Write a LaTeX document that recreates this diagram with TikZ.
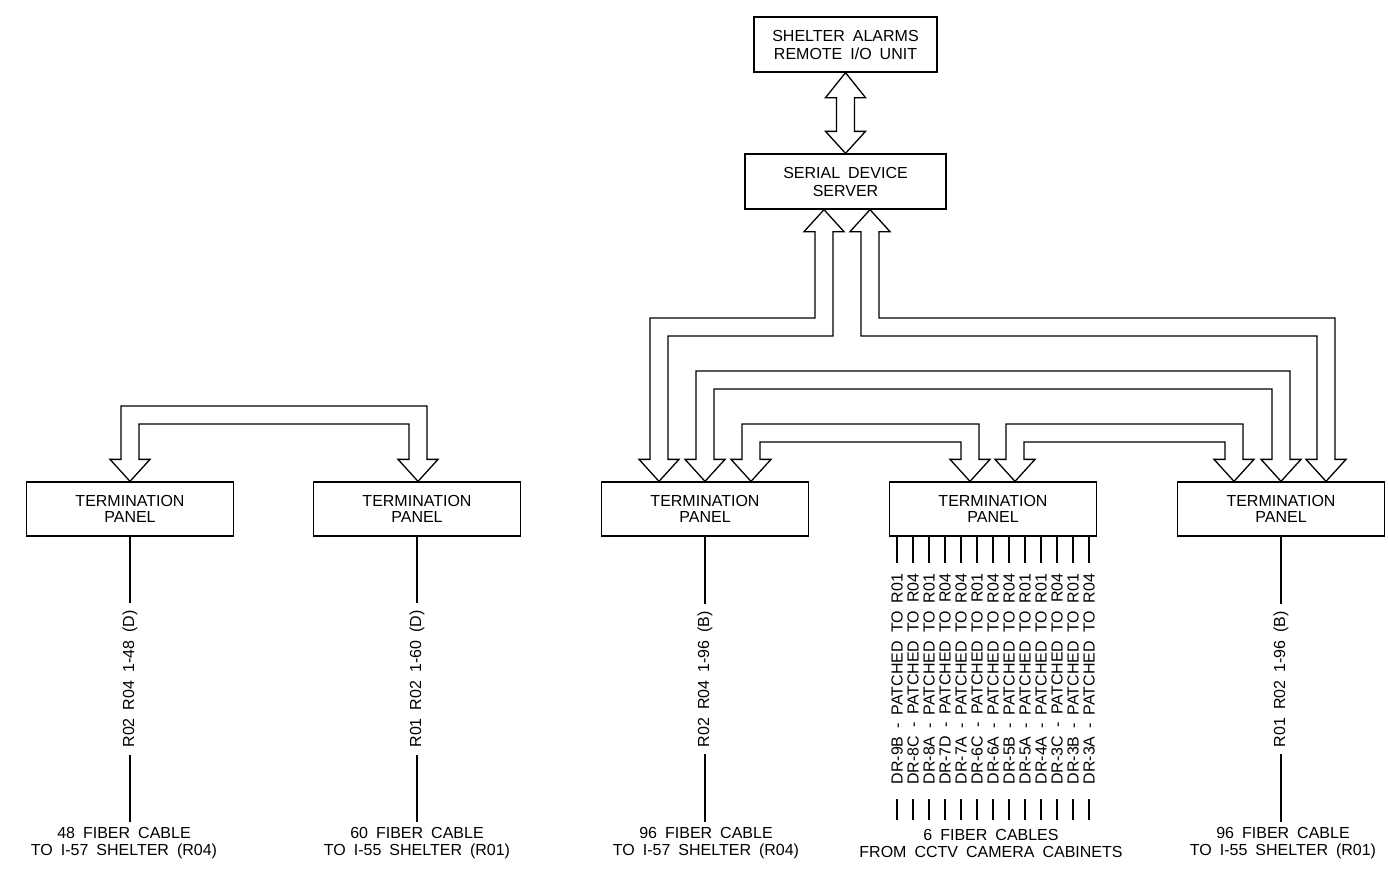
\documentclass[tikz,border=0pt]{standalone}
\usepackage{fontspec}
\setmainfont[WordSpace=1.8]{Liberation Sans}
\usetikzlibrary{calc}
% cap-shaped hollow arrow: left tip, right tip, outer top y
\newcommand{\caparrow}[3]{%
\draw[arr] let \p1=#1, \p2=#2, \p3=(0,#3) in
 (\x1,\y1) -- (\x1-20pt,\y1+22pt) -- (\x1-9pt,\y1+22pt) -- (\x1-9pt,\y3) --
 (\x2+9pt,\y3) -- (\x2+9pt,\y2+22pt) -- (\x2+20pt,\y2+22pt) -- (\x2,\y2) --
 (\x2-20pt,\y2+22pt) -- (\x2-9pt,\y2+22pt) -- (\x2-9pt,\y3-18pt) --
 (\x1+9pt,\y3-18pt) -- (\x1+9pt,\y1+22pt) -- (\x1+20pt,\y1+22pt) -- cycle;}
% L-shaped hollow arrow going down-left: up tip, down tip, outer y
\newcommand{\larrowleft}[3]{%
\draw[arr] let \p1=#1, \p2=#2, \p3=(0,#3) in
 (\x1,\y1) -- (\x1+20pt,\y1-22pt) -- (\x1+9pt,\y1-22pt) -- (\x1+9pt,\y3-18pt) --
 (\x2+9pt,\y3-18pt) -- (\x2+9pt,\y2+22pt) -- (\x2+20pt,\y2+22pt) -- (\x2,\y2) --
 (\x2-20pt,\y2+22pt) -- (\x2-9pt,\y2+22pt) -- (\x2-9pt,\y3) -- (\x1-9pt,\y3) --
 (\x1-9pt,\y1-22pt) -- (\x1-20pt,\y1-22pt) -- cycle;}
% L-shaped hollow arrow going down-right
\newcommand{\larrowright}[3]{%
\draw[arr] let \p1=#1, \p2=#2, \p3=(0,#3) in
 (\x1,\y1) -- (\x1+20pt,\y1-22pt) -- (\x1+9pt,\y1-22pt) -- (\x1+9pt,\y3) --
 (\x2+9pt,\y3) -- (\x2+9pt,\y2+22pt) -- (\x2+20pt,\y2+22pt) -- (\x2,\y2) --
 (\x2-20pt,\y2+22pt) -- (\x2-9pt,\y2+22pt) -- (\x2-9pt,\y3-18pt) --
 (\x1-9pt,\y3-18pt) -- (\x1-9pt,\y1-22pt) -- (\x1-20pt,\y1-22pt) -- cycle;}
\begin{document}
\begin{tikzpicture}[x=1pt,y=-1pt,
  box/.style={draw,line width=1.3pt,rectangle,minimum height=55pt,inner sep=0pt,
    align=center,font=\fontsize{16}{18}\selectfont},
  tpbox/.style={box,minimum width=207pt,minimum height=54pt,font=\fontsize{16}{16}\selectfont},
  arr/.style={draw,line width=1.3pt,line join=miter,fill=white},
  wire/.style={line width=1.3pt},
  vlab/.style={rotate=90,inner sep=7pt,font=\fontsize{16}{17}\selectfont},
  blab/.style={align=center,inner sep=0pt,font=\fontsize{16}{17}\selectfont}]
\useasboundingbox (0,0) rectangle (1388,876);

% boxes
\node[box,minimum width=183pt] (alarm) at (845.5,44.5) {SHELTER ALARMS\\REMOTE I/O UNIT};
\node[box,minimum width=201pt] (sds) at (845.5,181.5) {SERIAL DEVICE\\SERVER};
\node[tpbox] (tp1) at (130,509) {TERMINATION\\PANEL};
\node[tpbox] (tp2) at (417,509) {TERMINATION\\PANEL};
\node[tpbox] (tp3) at (705,509) {TERMINATION\\PANEL};
\node[tpbox] (tp4) at (993,509) {TERMINATION\\PANEL};
\node[tpbox] (tp5) at (1281,509) {TERMINATION\\PANEL};

% double arrow alarm <-> server
\draw[arr] let \p1=(alarm.south), \p2=(sds.north) in
 (\x1,\y1) -- (\x1+20pt,\y1-25pt) -- (\x1+9pt,\y1-25pt) -- (\x2+9pt,\y2+22pt) --
 (\x2+20pt,\y2+22pt) -- (\x2,\y2) -- (\x2-20pt,\y2+22pt) -- (\x2-9pt,\y2+22pt) --
 (\x1-9pt,\y1-25pt) -- (\x1-20pt,\y1-25pt) -- cycle;

% left pair
\caparrow{(130,0 |- tp1.north)}{(418,0 |- tp2.north)}{406}

% server to panels
\larrowleft{(824,0 |- sds.south)}{(659,0 |- tp3.north)}{318}
\larrowright{(870,0 |- sds.south)}{(1326,0 |- tp5.north)}{318}
\caparrow{(705,0 |- tp3.north)}{(1281,0 |- tp5.north)}{371}
\caparrow{(751,0 |- tp3.north)}{(970,0 |- tp4.north)}{424}
\caparrow{(1015,0 |- tp4.north)}{(1234,0 |- tp5.north)}{424}

% single cables
\node[vlab] (c1) at (130,679) {R02 R04 1-48 (D)};
\node[vlab] (c2) at (417,679) {R01 R02 1-60 (D)};
\node[vlab] (c3) at (705,679) {R02 R04 1-96 (B)};
\node[vlab] (c5) at (1281,679) {R01 R02 1-96 (B)};
\coordinate (e1) at (130,822);
\coordinate (e2) at (417,822);
\coordinate (e3) at (705,822);
\coordinate (e5) at (1281,822);
\draw[wire] (tp1.south) -- (c1.east) (c1.west) -- (e1);
\draw[wire] (tp2.south) -- (c2.east) (c2.west) -- (e2);
\draw[wire] (tp3.south) -- (c3.east) (c3.west) -- (e3);
\draw[wire] (tp5.south) -- (c5.east) (c5.west) -- (e5);

\node[blab] (b1) at (124,843.5) {48 FIBER CABLE\\TO I-57 SHELTER (R04)};
\node[blab] (b2) at (417,843.5) {60 FIBER CABLE\\TO I-55 SHELTER (R01)};
\node[blab] (b3) at (706,843.5) {96 FIBER CABLE\\TO I-57 SHELTER (R04)};
\node[blab] (b5) at (1283,843.5) {96 FIBER CABLE\\TO I-55 SHELTER (R01)};
\node[blab] (b4) at (991,843.5) {6 FIBER CABLES\\FROM CCTV CAMERA CABINETS};

% CCTV cables
\foreach \t [count=\k from 0] in {DR-9B - PATCHED TO R01,DR-8C - PATCHED TO R04,
  DR-8A - PATCHED TO R01,DR-7D - PATCHED TO R04,DR-7A - PATCHED TO R04,
  DR-6C - PATCHED TO R01,DR-6A - PATCHED TO R04,DR-5B - PATCHED TO R04,
  DR-5A - PATCHED TO R01,DR-4A - PATCHED TO R01,DR-3C - PATCHED TO R04,
  DR-3B - PATCHED TO R01,DR-3A - PATCHED TO R04} {
  \pgfmathsetmacro{\xx}{993+16*(\k-6)}
  \node[vlab,inner sep=0pt] (d\k) at (\xx,679) {\t};
  \coordinate (u\k) at (\xx,563);
  \coordinate (v\k) at (\xx,799);
  \coordinate (w\k) at (\xx,820);
  \draw[wire] (u\k |- tp4.south) -- (u\k);
  \draw[wire] (v\k) -- (w\k);
}
\end{tikzpicture}
\end{document}
